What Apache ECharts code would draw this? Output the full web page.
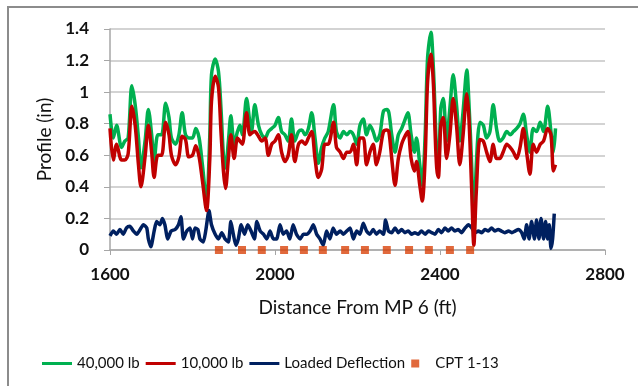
<!DOCTYPE html>
<html>
<head>
<meta charset="utf-8">
<script src="https://cdn.jsdelivr.net/npm/echarts@6/dist/echarts.min.js"></script>
<style>
  html, body { margin: 0; padding: 0; background: #fff; }
  #chart { width: 638px; height: 386px; }
</style>
</head>
<body>
<div id="chart"></div>
<script>
// distance along the track (ft) for the two profile runs
const distance = [1600,1608,1616,1628,1636,1644,1653,1661,1669,1675,
  1685,1693,1701,1707,1716,1725,1735,1743,1749,1759,
  1767,1775,1783,1791,1800,1808,1816,1824,1834,1842,
  1846,1855,1863,1869,1875,1880,1887,1893,1901,1909,
  1915,1921,1931,1939,1943,1951,1960,1968,1976,1984,
  1992,2000,2008,2016,2024,2032,2040,2048,2057,2065,
  2073,2081,2089,2097,2105,2113,2121,2129,2142,2149,
  2158,2166,2174,2182,2190,2198,2206,2214,2222,2230,
  2238,2246,2254,2263,2271,2276,2283,2291,2299,2307,
  2313,2322,2330,2338,2343,2351,2357,2364,2370,2378,
  2384,2388,2392,2396,2402,2408,2416,2424,2432,2440,
  2448,2456,2465,2470,2477,2482,2488,2497,2505,2513,
  2521,2529,2537,2545,2553,2562,2570,2578,2586,2594,
  2602,2610,2618,2626,2634,2643,2651,2661,2669,2675,
  2680]

const profile40k = [0.86,0.71,0.79,0.65,0.69,0.71,1.04,0.92,0.71,0.52,
  0.69,0.89,0.73,0.56,0.73,0.73,0.93,0.84,0.71,0.67,
  0.73,0.87,0.73,0.71,0.71,0.77,0.71,0.54,0.31,0.73,
  1.11,1.21,1.13,0.90,0.60,0.52,0.69,0.85,0.67,0.75,
  0.79,0.73,0.96,0.81,0.75,0.92,0.79,0.73,0.71,0.75,
  0.77,0.79,0.84,0.75,0.73,0.69,0.83,0.69,0.75,0.76,
  0.73,0.77,0.87,0.71,0.55,0.65,0.71,0.75,0.92,0.75,
  0.71,0.75,0.73,0.75,0.73,0.67,0.79,0.83,0.73,0.79,
  0.75,0.69,0.73,0.88,0.89,0.87,0.73,0.62,0.73,0.77,
  0.81,0.87,0.73,0.62,0.71,0.54,0.41,0.73,1.22,1.38,
  1.15,0.88,0.60,0.52,0.90,0.96,0.69,0.90,1.11,0.92,
  0.69,0.88,1.14,0.94,0.52,0.07,0.54,0.81,0.79,0.71,
  0.75,0.92,0.77,0.69,0.71,0.75,0.73,0.75,0.77,0.80,
  0.86,0.73,0.62,0.77,0.75,0.81,0.75,0.91,0.75,0.62,
  0.77]

const profile10k = [0.77,0.57,0.67,0.57,0.57,0.61,0.91,0.79,0.54,0.40,
  0.59,0.79,0.62,0.46,0.60,0.60,0.81,0.73,0.60,0.54,
  0.59,0.72,0.70,0.59,0.60,0.66,0.59,0.44,0.25,0.58,
  0.94,1.10,1.03,0.75,0.50,0.39,0.58,0.73,0.58,0.71,
  0.69,0.67,0.87,0.73,0.74,0.75,0.72,0.69,0.71,0.60,
  0.67,0.69,0.73,0.62,0.56,0.60,0.73,0.56,0.67,0.69,
  0.67,0.71,0.75,0.58,0.46,0.51,0.67,0.67,0.81,0.65,
  0.62,0.58,0.62,0.62,0.67,0.54,0.71,0.71,0.54,0.62,
  0.67,0.54,0.62,0.75,0.76,0.75,0.58,0.41,0.58,0.67,
  0.71,0.75,0.58,0.50,0.56,0.41,0.31,0.58,1.07,1.24,
  1.05,0.75,0.52,0.46,0.79,0.84,0.58,0.73,0.96,0.79,
  0.54,0.73,0.99,0.84,0.37,0.03,0.37,0.70,0.69,0.62,
  0.56,0.67,0.58,0.58,0.62,0.67,0.65,0.62,0.58,0.65,
  0.77,0.62,0.48,0.67,0.62,0.67,0.69,0.77,0.73,0.50,
  0.54]

const deflDistance = [1600,1608,1616,1624,1632,1640,1648,1657,1665,1673,
  1681,1689,1693,1699,1707,1713,1721,1727,1733,1740,
  1748,1758,1766,1772,1778,1786,1794,1800,1806,1813,
  1818,1826,1832,1840,1846,1855,1863,1871,1879,1887,
  1893,1899,1905,1911,1918,1926,1934,1942,1950,1956,
  1964,1972,1980,1988,1996,2004,2012,2020,2028,2036,
  2044,2052,2061,2069,2077,2085,2093,2101,2109,2117,
  2125,2133,2141,2149,2158,2166,2174,2182,2190,2198,
  2206,2214,2222,2230,2238,2246,2254,2263,2268,2275,
  2283,2291,2299,2307,2315,2323,2331,2339,2347,2355,
  2364,2372,2380,2388,2396,2404,2412,2420,2428,2436,
  2444,2452,2461,2469,2477,2485,2493,2501,2509,2517,
  2525,2533,2541,2549,2557,2566,2574,2582,2590,2598,
  2604,2610,2616,2622,2629,2634,2640,2645,2651,2656,
  2661,2665,2669,2673,2677]

const loadedDeflection = [0.09,0.12,0.10,0.13,0.10,0.14,0.15,0.12,0.10,0.13,
  0.16,0.14,0.07,0.02,0.12,0.18,0.16,0.20,0.16,0.07,
  0.12,0.13,0.16,0.21,0.07,0.12,0.14,0.07,0.14,0.13,
  0.07,0.05,0.12,0.25,0.16,0.10,0.07,0.11,0.07,0.05,
  0.18,0.10,0.03,0.07,0.16,0.10,0.16,0.12,0.07,0.18,
  0.12,0.10,0.07,0.12,0.07,0.07,0.16,0.10,0.12,0.07,
  0.16,0.10,0.07,0.10,0.10,0.12,0.16,0.10,0.07,0.03,
  0.12,0.07,0.14,0.10,0.12,0.10,0.12,0.14,0.07,0.12,
  0.10,0.17,0.12,0.10,0.13,0.10,0.12,0.10,0.19,0.12,
  0.11,0.14,0.11,0.13,0.11,0.12,0.10,0.11,0.10,0.12,
  0.10,0.12,0.11,0.10,0.13,0.11,0.14,0.12,0.14,0.12,
  0.13,0.11,0.14,0.16,0.14,0.11,0.12,0.11,0.13,0.12,
  0.14,0.12,0.13,0.12,0.11,0.12,0.11,0.12,0.13,0.11,
  0.07,0.16,0.07,0.18,0.07,0.19,0.07,0.20,0.07,0.18,
  0.07,0.16,0.01,0.07,0.23]

const cptDistance = [1864,1920,1968,2022,2070,2116,2170,2218,2271,2325,2373,2424,2473]
const cptValue = [0,0,0,0,0,0,0,0,0,0,0,0,0]

const xTicks = [1600, 2000, 2400, 2800]

const pair = (xs, ys) => xs.map((x, i) => [x, ys[i]])

const chart = echarts.init(document.getElementById('chart'))
const font = 'Lato, "Open Sans", sans-serif'
const lineIcon = 'path://M0,0h10v1h-10z'

const option = {
  animation: false,
  backgroundColor: '#fff',
  textStyle: { fontFamily: font },
  graphic: [{
    type: 'rect',
    shape: { x: 8, y: 7, width: 700, height: 500 },
    style: { fill: 'none', stroke: '#8c8c8c', lineWidth: 2 },
    silent: true
  }],
  grid: { left: 110, right: 33, top: 29, bottom: 136 },
  legend: {
    left: 37,
    top: 351,
    itemWidth: 30,
    itemHeight: 8,
    itemGap: 6,
    textStyle: { fontFamily: font, fontSize: 15, color: '#111' },
    data: [
      { name: '40,000 lb', icon: lineIcon },
      { name: '10,000 lb', icon: lineIcon },
      { name: 'Loaded Deflection', icon: lineIcon },
      { name: 'CPT 1-13', icon: 'path://M0,0h1v1h-1z' }
    ]
  },
  xAxis: {
    type: 'value',
    min: xTicks[0],
    max: xTicks[xTicks.length - 1],
    interval: 400,
    name: 'Distance From MP 6 (ft)',
    nameLocation: 'middle',
    nameGap: 48,
    nameTextStyle: { fontFamily: font, fontSize: 19, color: '#111' },
    axisLine: { lineStyle: { color: '#a6a6a6', width: 1.5 } },
    axisTick: { length: 5, lineStyle: { color: '#a6a6a6' } },
    axisLabel: {
      margin: 16, fontFamily: font, fontSize: 17, fontWeight: 'bold', color: '#111',
      formatter: v => String(v)
    },
    splitLine: { show: false }
  },
  yAxis: {
    type: 'value',
    min: 0,
    max: 1.4,
    interval: 0.2,
    name: 'Profile (in)',
    nameLocation: 'middle',
    nameGap: 55,
    nameTextStyle: { fontFamily: font, fontSize: 19, color: '#111' },
    axisLine: { show: true, lineStyle: { color: '#a6a6a6', width: 1.5 } },
    axisTick: { show: true, length: 6, lineStyle: { color: '#a6a6a6' } },
    axisLabel: { margin: 21, fontFamily: font, fontSize: 17, fontWeight: 'bold', color: '#111' },
    splitLine: { lineStyle: { color: '#c4c4c4', width: 1.5 } }
  },
  series: [
    {
      name: '40,000 lb',
      type: 'line',
      z: 2,
      showSymbol: false,
      symbol: 'none',
      smooth: 0.3,
      data: pair(distance, profile40k),
      lineStyle: { color: '#00B050', width: 3.5 },
      itemStyle: { color: '#00B050' }
    },
    {
      name: '10,000 lb',
      type: 'line',
      z: 3,
      showSymbol: false,
      symbol: 'none',
      smooth: 0.3,
      data: pair(distance, profile10k),
      lineStyle: { color: '#C00000', width: 3.5 },
      itemStyle: { color: '#C00000' }
    },
    {
      name: 'Loaded Deflection',
      type: 'line',
      z: 1,
      showSymbol: false,
      symbol: 'none',
      smooth: 0.2,
      data: pair(deflDistance, loadedDeflection),
      lineStyle: { color: '#002060', width: 3.5 },
      itemStyle: { color: '#002060' }
    },
    {
      name: 'CPT 1-13',
      type: 'scatter',
      z: 4,
      symbol: 'rect',
      symbolSize: 8,
      clip: false,
      data: pair(cptDistance, cptValue),
      itemStyle: { color: '#D9430B' }
    }
  ]
}

chart.setOption(option)
window.addEventListener('resize', () => chart.resize())
</script>
</body>
</html>
